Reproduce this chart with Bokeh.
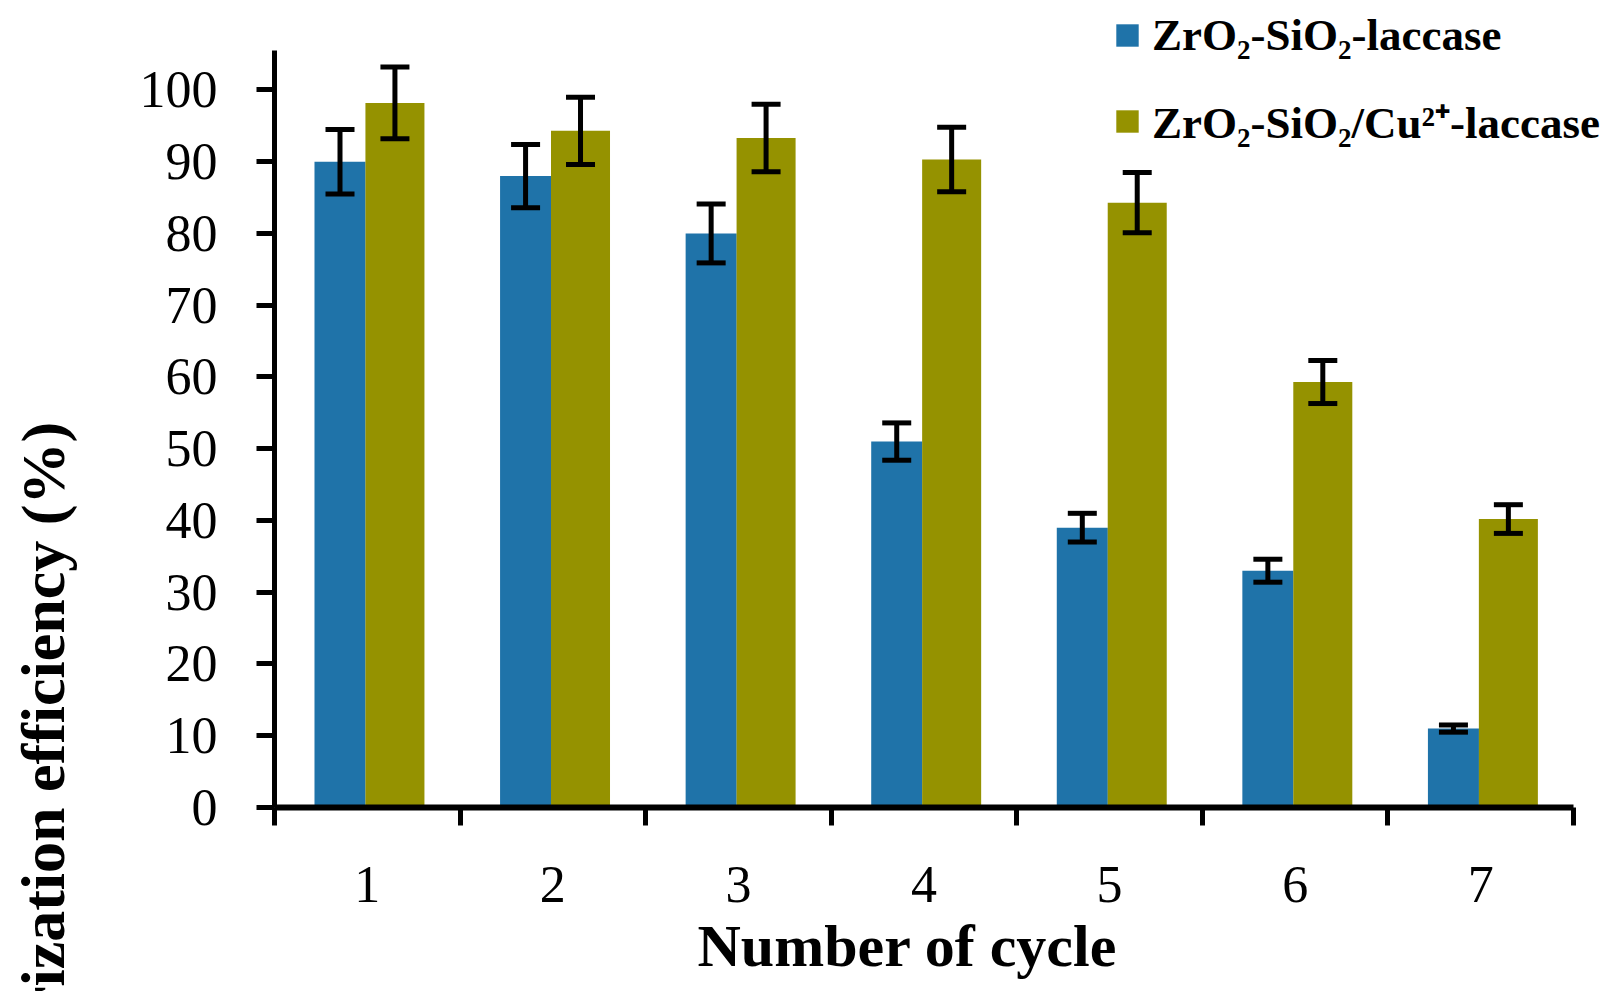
from bokeh.plotting import figure
from bokeh.models import (ColumnDataSource, Range1d, FixedTicker, Whisker, TeeHead,
                          Legend, LegendItem, Title)
from bokeh.transform import dodge
from bokeh.embed import file_html
from bokeh.resources import INLINE

# ---- data ----
cycles = [1, 2, 3, 4, 5, 6, 7]
cycle_labels = ["1", "2", "3", "4", "5", "6", "7"]
zr_si = [90.0, 88.0, 80.0, 51.0, 39.0, 33.0, 11.0]
zr_si_err = [4.5, 4.4, 4.1, 2.6, 2.0, 1.6, 0.5]
zr_si_cu = [98.2, 94.3, 93.3, 90.3, 84.3, 59.3, 40.2]
zr_si_cu_err = [5.0, 4.7, 4.7, 4.5, 4.2, 3.0, 2.0]
series_names = ["ZrO\u2082-SiO\u2082-laccase", "ZrO\u2082-SiO\u2082/Cu\u00b2\u207a-laccase"]
y_ticks = [0, 10, 20, 30, 40, 50, 60, 70, 80, 90, 100]
x_title = "Number of cycle"
y_title = "Decolorization efficiency (%)"

BLUE = "#1F73A9"
OLIVE = "#959200"
SERIF = "Liberation Serif"

src = ColumnDataSource(dict(
    x=cycles,
    a=zr_si,
    a_hi=[v + e for v, e in zip(zr_si, zr_si_err)],
    a_lo=[v - e for v, e in zip(zr_si, zr_si_err)],
    b=zr_si_cu,
    b_hi=[v + e for v, e in zip(zr_si_cu, zr_si_cu_err)],
    b_lo=[v - e for v, e in zip(zr_si_cu, zr_si_cu_err)],
))

# frame spans to the top/right edges so the legend is not clipped;
# axis lines are limited with bounds
p = figure(frame_width=1340, frame_height=807,
           x_range=Range1d(0.5, 7.7209), y_range=Range1d(0, 112.47),
           output_backend="svg", toolbar_location=None,
           min_border_left=274, min_border_right=0,
           min_border_top=0, min_border_bottom=184)
p.outline_line_color = None
p.xgrid.visible = False
p.ygrid.visible = False
p.background_fill_color = "white"
p.border_fill_color = "white"

off_a, w_a = -0.147, 0.275
off_b, w_b = 0.149, 0.318

ra = p.vbar(x=dodge("x", off_a), top="a", bottom=0, width=w_a, source=src,
            fill_color=BLUE, line_color=None)
rb = p.vbar(x=dodge("x", off_b), top="b", bottom=0, width=w_b, source=src,
            fill_color=OLIVE, line_color=None)

for off, hi, lo in [(off_a, "a_hi", "a_lo"), (off_b, "b_hi", "b_lo")]:
    w = Whisker(base=dodge("x", off), upper=hi, lower=lo, source=src,
                level="overlay",
                line_color="black", line_width=5,
                upper_head=TeeHead(size=29, line_width=5, line_color="black"),
                lower_head=TeeHead(size=29, line_width=5, line_color="black"))
    p.add_layout(w)

# x axis: labels at centres, ticks at category boundaries (minor ticks)
xa = p.xaxis[0]
xa.bounds = (0.5, 7.5)
xa.ticker = FixedTicker(ticks=cycles, minor_ticks=[c - 0.5 for c in cycles] + [7.5])
xa.major_label_overrides = {c: l for c, l in zip(cycles, cycle_labels)}
xa.major_tick_out = 0
xa.major_tick_in = 0
xa.minor_tick_out = 18
xa.minor_tick_in = 0
xa.minor_tick_line_width = 5
xa.minor_tick_line_color = "black"
xa.axis_line_width = 6
xa.axis_line_color = "black"
xa.major_label_text_font = SERIF
xa.major_label_text_font_size = "52px"
xa.major_label_text_color = "black"
xa.major_label_standoff = 41

ya = p.yaxis[0]
ya.bounds = (0, 105.5)
ya.ticker = FixedTicker(ticks=y_ticks, minor_ticks=[])
ya.major_tick_out = 18
ya.major_tick_in = 0
ya.major_tick_line_width = 5
ya.minor_tick_out = 0
ya.minor_tick_in = 0
ya.axis_line_width = 5
ya.axis_line_color = "black"
ya.major_label_text_font = SERIF
ya.major_label_text_font_size = "52px"
ya.major_label_text_color = "black"
ya.major_label_standoff = 39

# x axis title as a Title so it can be offset to match the reference
xt = Title(text=x_title, align="left", offset=423, standoff=12,
           text_font=SERIF, text_font_style="bold", text_font_size="60px",
           text_color="black")
p.add_layout(xt, "below")

# y axis title: axis label aligned to the start (bottom) of the axis
try:
    ya.axis_label_align = "start"
    ya.axis_label = y_title
    ya.axis_label_text_font = SERIF
    ya.axis_label_text_font_style = "bold"
    ya.axis_label_text_font_size = "62px"
    ya.axis_label_text_color = "black"
    ya.axis_label_standoff = 60
except (AttributeError, ValueError):
    yt = Title(text=y_title, align="left", offset=-10, standoff=50,
               text_font=SERIF, text_font_style="bold", text_font_size="62px",
               text_color="black")
    p.add_layout(yt, "left")

legend = Legend(items=[LegendItem(label=series_names[0], renderers=[ra]),
                       LegendItem(label=series_names[1], renderers=[rb])],
                location=(839, 656), orientation="vertical",
                glyph_width=28, glyph_height=28, label_height=28,
                label_standoff=11, spacing=29, padding=0, margin=0,
                label_text_font=SERIF, label_text_font_style="bold",
                label_text_font_size="45px", label_text_color="black",
                border_line_color=None, background_fill_alpha=0)
p.add_layout(legend)

open("out.html", "w").write(file_html(p, INLINE))
